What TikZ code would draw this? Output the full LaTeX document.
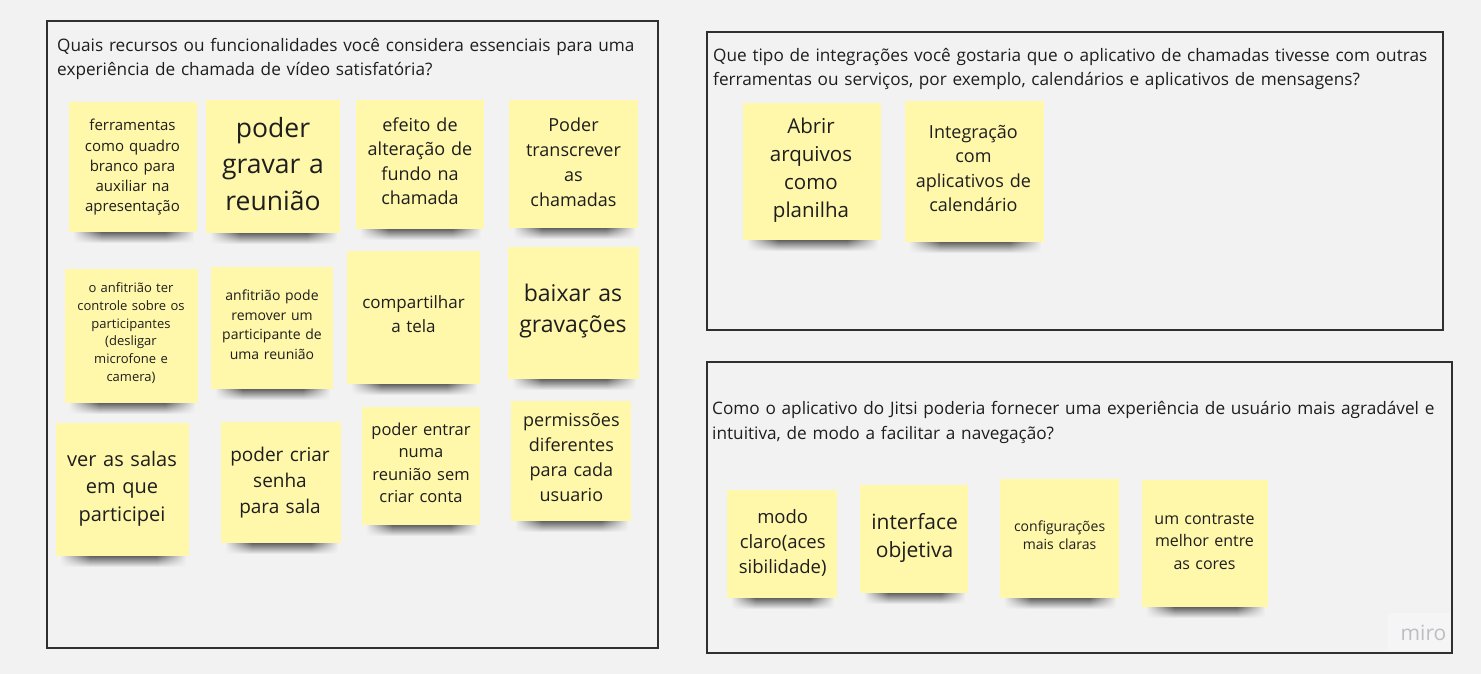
\documentclass[tikz,border=0pt]{standalone}
\usepackage{fontspec}
\setmainfont{Open Sans}
\usetikzlibrary{fadings}
\definecolor{bg}{HTML}{F2F2F2}
\definecolor{framec}{HTML}{303030}
\definecolor{notec}{HTML}{FFF7AA}
\definecolor{shadowc}{HTML}{555555}
\definecolor{txt}{HTML}{1E1E1E}
\definecolor{miroc}{HTML}{BDBDC3}
\definecolor{logobg}{HTML}{F5F5F5}
\pgfdeclarehorizontalshading{hfs}{100bp}{color(0bp)=(black); color(25bp)=(black); color(37bp)=(white); color(63bp)=(white); color(75bp)=(black); color(100bp)=(black)}
\pgfdeclarefading{hfade}{\pgfuseshading{hfs}}
\newcommand\stfont[2]{\fontsize{#1}{#2}\selectfont}
\newcommand\notebox[5]{%
  \shade[top color=shadowc, bottom color=bg, path fading=hfade] (#2+4,#5-1) rectangle (#4-3,#5+11);
  \node[note, minimum width={#4-#2}, minimum height={#5-#3}] (#1) at ({(#2+#4)/2},{(#3+#5)/2}) {};
}
\tikzset{
  frame/.style={draw=framec, line width=1.4pt, fill=bg},
  note/.style={fill=notec, draw=none, inner sep=0pt, rectangle},
  notetext/.style={anchor=base, align=center, text width=#1, inner sep=0pt, text=txt},
  titletext/.style={anchor=base west, align=left, text width=760pt, inner sep=0pt, text=txt, font=\stfont{17.2}{24.5}},
}
\begin{document}
\begin{tikzpicture}[x=1pt, y=-1pt]
\fill[bg] (0,0) rectangle (1481,674);
\useasboundingbox (0,0) rectangle (1481,674);

% frames
\node[frame, minimum width=611, minimum height=627, inner sep=0pt] (f1) at (352.5,334.5) {};
\node[frame, minimum width=736, minimum height=298, inner sep=0pt] (f2) at (1075,181) {};
\node[frame, minimum width=745, minimum height=291, inner sep=0pt] (f3) at (1079.5,507.5) {};

% titles
\node[titletext] (t1) at (57,51.3) {Quais recursos ou funcionalidades você considera essenciais para uma\\experiência de chamada de vídeo satisfatória?};
\node[titletext] (t2) at (713,61.3) {Que tipo de integrações você gostaria que o aplicativo de chamadas tivesse com outras\\ferramentas ou serviços, por exemplo, calendários e aplicativos de mensagens?};
\node[titletext] (t3) at (712,414.6) {Como o aplicativo do Jitsi poderia fornecer uma experiência de usuário mais agradável e\\intuitiva, de modo a facilitar a navegação?};

% frame 1 notes
\notebox{s1}{69}{102}{197}{232}
\node[notetext=122pt, font=\stfont{15}{20.3}] (s1t) at (132.5,130.8) {ferramentas\\como quadro\\branco para\\auxiliar na\\apresentação};
\notebox{s2}{206}{100}{340}{233}
\node[notetext=130pt, font=\stfont{26.5}{36.5}] (s2t) at (273,137.2) {poder\\gravar a\\reunião};
\notebox{s3}{356}{100}{484}{229}
\node[notetext=124pt, font=\stfont{18}{24.4}] (s3t) at (420,131.6) {efeito de\\alteração de\\fundo na\\chamada};
\notebox{s4}{509}{100}{638}{228}
\node[notetext=125pt, font=\stfont{18}{25}] (s4t) at (573.5,131.6) {Poder\\transcrever\\as\\chamadas};

\notebox{s5}{65}{269}{198}{403}
\node[notetext=128pt, font=\stfont{13}{17.7}] (s5t) at (131,292.8) {o anfitrião ter\\controle sobre os\\participantes\\(desligar\\microfone e\\camera)};
\notebox{s6}{211}{267}{333}{389}
\node[notetext=120pt, font=\stfont{14}{19.5}] (s6t) at (272,300.5) {anfitrião pode\\remover um\\participante de\\uma reunião};
\notebox{s7}{347}{251}{480}{384}
\node[notetext=130pt, font=\stfont{17}{23.5}] (s7t) at (413.5,308.6) {compartilhar\\a tela};
\notebox{s8}{508}{247}{639}{379}
\node[notetext=128pt, font=\stfont{23}{31}] (s8t) at (573,301.2) {baixar as\\gravações};

\notebox{s9}{56}{423}{189}{556}
\node[notetext=130pt, font=\stfont{20}{27.5}] (s9t) at (122,466.1) {ver as salas\\em que\\participei};
\notebox{s10}{221}{422}{341}{543}
\node[notetext=118pt, font=\stfont{19}{26}] (s10t) at (280,461.1) {poder criar\\senha\\para sala};
\notebox{s11}{362}{407}{480}{525}
\node[notetext=116pt, font=\stfont{16.5}{22.5}] (s11t) at (421,435.2) {poder entrar\\numa\\reunião sem\\criar conta};
\notebox{s12}{511}{401}{631}{521}
\node[notetext=118pt, font=\stfont{18}{25}] (s12t) at (571.4,426.6) {permissões\\diferentes\\para cada\\usuario};

% frame 2 notes
\notebox{s13}{743}{103}{881}{240}
\node[notetext=134pt, font=\stfont{20.5}{28}] (s13t) at (811,133.2) {Abrir\\arquivos\\como\\planilha};
\notebox{s14}{905}{101}{1044}{242}
\node[notetext=136pt, font=\stfont{18}{24.5}] (s14t) at (973.4,138.2) {Integração\\com\\aplicativos de\\calendário};

% frame 3 notes
\notebox{s15}{727}{490}{837}{598}
\node[notetext=108pt, font=\stfont{18.5}{25}] (s15t) at (782.7,523.3) {modo\\claro(aces\\sibilidade)};
\notebox{s16}{860}{485}{968}{593}
\node[notetext=106pt, font=\stfont{21}{28.3}] (s16t) at (914.6,529) {interface\\objetiva};
\notebox{s17}{1000}{479}{1119}{598}
\node[notetext=117pt, font=\stfont{14}{18.7}] (s17t) at (1059.6,531.1) {configurações\\mais claras};
\notebox{s18}{1142}{480}{1268}{607}
\node[notetext=124pt, font=\stfont{16}{22.5}] (s18t) at (1204.5,524.3) {um contraste\\melhor entre\\as cores};

% logo
\fill[logobg] (1388,613) rectangle (1450,651);
\node[anchor=base, inner sep=0pt, text=miroc, font=\stfont{21}{21}] (logo) at (1423.5,640) {miro};
\end{tikzpicture}
\end{document}
